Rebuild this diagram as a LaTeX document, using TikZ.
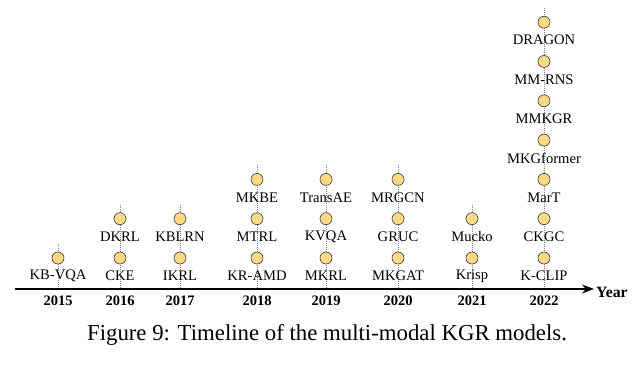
\documentclass[tikz,border=0pt]{standalone}
\usepackage{fontspec}
\setmainfont{Liberation Serif}
\usepackage{tikz}
\usetikzlibrary{arrows.meta}
\definecolor{tlDot}{HTML}{FCD985}
\definecolor{tlEdge}{HTML}{3A3A3A}

\begin{document}
\begin{tikzpicture}[x=1pt,y=1pt,
  dot/.style={circle,draw=tlEdge,fill=tlDot,line width=0.6pt,inner sep=0pt,minimum size=12pt},
  mlab/.style={inner sep=0pt,font=\fontsize{14.6}{15}\selectfont},
  yrlab/.style={inner sep=0pt,font=\bfseries\fontsize{14.5}{15}\selectfont},
  guide/.style={dash pattern=on 1pt off 1pt,gray,line width=0.45pt}]
\useasboundingbox (0,0) rectangle (640,368);
\def\dy{39.3}
\coordinate (ax0) at (15,79);\coordinate (ax1) at (594,79);
% one column per year: x / year / number of models / models bottom-up
\foreach \x/\yr/\n/\models in {58/2015/1/{KB-VQA},120/2016/2/{CKE,DKRL},180/2017/2/{IKRL,KBLRN},
    257/2018/3/{KR-AMD,MTRL,MKBE},326/2019/3/{MKRL,KVQA,TransAE},398/2020/3/{MKGAT,GRUC,MRGCN},
    472/2021/2/{Krisp,Mucko},544/2022/7/{K-CLIP,CKGC,MarT,MKGformer,MMKGR,MM-RNS,DRAGON}}{
  \coordinate (base-\yr) at (\x,79);
  \coordinate (top-\yr) at (\x,{110+\dy*(\n-1)+14});
  \draw[guide] (top-\yr) -- (base-\yr);
  \foreach \m [count=\k from 0] in \models {
    \node[dot] (d-\yr-\k) at (\x,{110+\dy*\k}) {};
    \node[mlab] (m-\yr-\k) at (\x,{92+\dy*\k}) {\m};
  }
  \node[yrlab] (y-\yr) at (\x,67) {\yr};
}
\draw[line width=1.4pt,-{Stealth[length=12pt,width=9pt]}] (ax0) -- (ax1);
\node[yrlab,anchor=west,font=\bfseries\fontsize{15.7}{16}\selectfont] (yl) at ([xshift=2pt,yshift=-3pt]ax1) {Year};
\node[inner sep=0pt,font=\fontsize{22.8}{24}\selectfont] (cap) at (327,33) {Figure 9: Timeline of the multi-modal KGR models.};
\end{tikzpicture}
\end{document}
